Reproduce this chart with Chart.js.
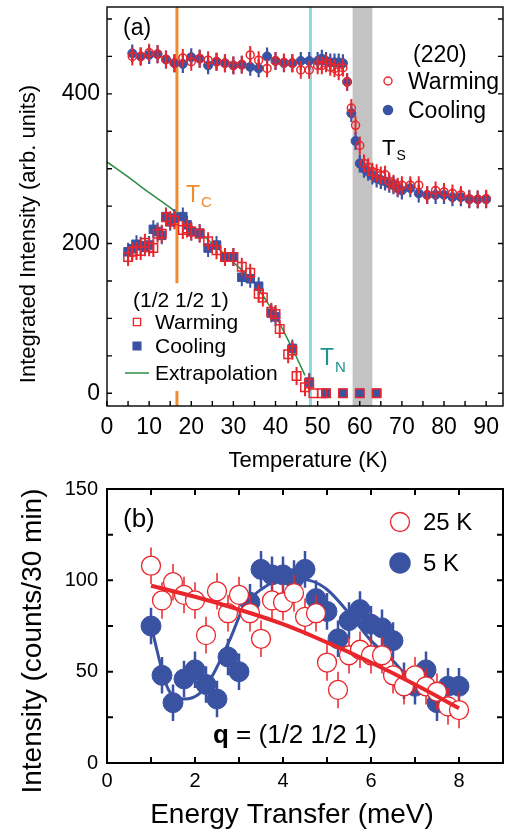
<!DOCTYPE html>
<html>
<head>
<meta charset="utf-8">
<script src="https://cdn.jsdelivr.net/npm/chart.js@4.4.0/dist/chart.umd.min.js"></script>
<style>
  html, body { margin: 0; padding: 0; background: #fff; }
  #wrap { position: relative; width: 510px; height: 832px; }
  canvas { position: absolute; left: 0; }
  #cA { top: 0; }
  #cB { top: 476px; }
</style>
</head>
<body>
<div id="wrap">
  <canvas id="cA" width="510" height="476" style="width:510px;height:476px"></canvas>
  <canvas id="cB" width="510" height="356" style="width:510px;height:356px"></canvas>
</div>
<script>
// ---- panel (a): (220) nuclear peak, warming / cooling
const T_220 = [6,8,10,12,14,16,18,20,22,24,26,28,30,32,34,36,38,40,42,44,46,48,
  50,51,52,53,54,55,56,57,58,59,60,61,62,63,64,65,66,67,68,69,70,
  72,74,76,78,80,82,84,86,88,90];
const I_220_WARM = [450,450,455,453,446,441,448,443,447,445,443,441,438,439,452,445,434,444,442,441,432,432,
  438,438,441,436,434,430,435,416,381,358,331,307,302,296,294,291,292,283,280,276,278,
  278,278,265,271,269,267,265,260,259,260];
const I_220_COOL = [454,450,452,453,446,441,440,449,447,438,443,441,438,439,436,434,450,444,441,441,444,444,
  444,447,444,442,442,442,441,416,374,337,307,300,296,291,287,285,283,280,278,274,271,
  274,267,265,265,265,262,262,259,259,259];
const ERR_220 = 12;

// ---- panel (a): (1/2 1/2 1) magnetic peak
const T_SQ_WARM = [5,6,7,8,9,10,11,12,13,14,15,16,18,19,20,22,24,26,28,30,32,34,36,37,39,40,41,43,44,45,47,48,49,51,52,56,60,64];
const I_SQ_WARM = [182,189,190,190,201,195,194,213,213,235,231,231,218,220,216,213,203,191,182,182,169,161,133,128,109,106,86,52,57,23,8,13,0,0,0,0,0,0];
const T_SQ_COOL = [5,6,7,8,9,10,11,12,13,14,15,16,18,19,20,22,24,26,28,30,32,34,36,39,40,44,48,52,56,60,64];
const I_SQ_COOL = [189,193,199,197,195,198,219,216,211,236,229,234,236,225,216,214,194,198,182,182,155,153,143,107,102,60,15,0,0,0,0];
const ERR_SQ = 12;

const T_EXTRAP = [0,5,10,15,20,25,30,35,38,40,42,44,45.5,47];
const I_EXTRAP = [309,289,268,248,224,200,175,147,122,104,82,60,42,24];

const TC = 16.6, TN = 48.3, TS_BAND = [58.3, 63.0];
const TC_GAP = [3, 147];

const X_TICKS_A = [0,10,20,30,40,50,60,70,80,90];
const Y_TICKS_A = [0,200,400];

// ---- panel (b): energy scans at q = (1/2 1/2 1)
const E_SCAN = [1,1.25,1.5,1.75,2,2.25,2.5,2.75,3,3.25,3.5,3.75,4,4.25,4.5,4.75,5,5.25,5.5,5.75,6,6.25,6.5,6.75,7,7.25,7.5,7.75,8];
const I_25K = [108,89,99,92,89,70,94,82,92,82,68,89,88,93,80,82,55,40,59,62,59,59,48,42,48,42,39,31,29];
const I_5K  = [75,48,33,46,51,43,35,58,50,88,106,103,103,101,106,90,83,68,78,84,76,74,67,45,42,51,33,42,42];
const ERR_SCAN = 10;

const FIT_25K_E = [1,2,3,4,5,6,7,8];
const FIT_25K_I = [97,91,84,76,66,55,43,30];
const FIT_5K_E = [1.0,1.4,1.75,2.1,2.4,2.8,3.1,3.5,4.1,4.6,5.0,5.5,6.0,6.5,7.0];
const FIT_5K_I = [75,40,35,38,48,68,85,95,101,100,95,82,67,56,42];

const X_TICKS_B = [0,2,4,6,8];
const Y_TICKS_B = [0,50,100,150];

// colours
const RED = '#e8262b';
const BLUE = '#3a52a2';
const GREEN = '#2f8c45';
const ORANGE = '#f08a2e';
const CYAN = '#93d5e6';
const TEAL = '#1d9490';
const FONT = "'Liberation Sans', Arial, sans-serif";

Chart.defaults.font.family = FONT;
Chart.defaults.color = '#000';

const pts = (xs, ys) => xs.map((x, i) => ({ x, y: ys[i] }));
const range = (a, b, s) => { const r = []; for (let v = a; v <= b + 1e-9; v += s) r.push(v); return r; };

// error bars, drawn under each dataset's markers
const errorBars = {
  id: 'errorBars',
  beforeDatasetDraw(chart, args) {
    const ds = chart.data.datasets[args.index];
    if (!ds.errBar) return;
    const { ctx } = chart;
    const sy = chart.scales.y;
    ctx.save();
    ctx.strokeStyle = ds.errBar.color;
    ctx.lineWidth = ds.errBar.width;
    ctx.beginPath();
    args.meta.data.forEach((pt, i) => {
      const v = ds.data[i].y;
      if (v === 0) return;
      ctx.moveTo(pt.x, sy.getPixelForValue(v - ds.errBar.size));
      ctx.lineTo(pt.x, sy.getPixelForValue(v + ds.errBar.size));
    });
    ctx.stroke();
    ctx.restore();
  }
};

// box + inward tick marks
const frame = {
  id: 'frame',
  afterDatasetsDraw(chart, args, o) {
    const { ctx, chartArea: a } = chart;
    const sx = chart.scales.x, sy = chart.scales.y;
    ctx.save();
    ctx.strokeStyle = '#000';
    ctx.lineWidth = o.lineWidth;
    ctx.beginPath();
    o.xTicks.forEach(v => {
      const p = sx.getPixelForValue(v);
      ctx.moveTo(p, a.bottom); ctx.lineTo(p, a.bottom - o.len);
      if (o.top) { ctx.moveTo(p, a.top); ctx.lineTo(p, a.top + o.len); }
    });
    o.yTicks.forEach(v => {
      const p = sy.getPixelForValue(v);
      ctx.moveTo(a.left, p); ctx.lineTo(a.left + o.len, p);
      ctx.moveTo(a.right, p); ctx.lineTo(a.right - o.len, p);
    });
    ctx.stroke();
    ctx.strokeRect(a.left, a.top, a.right - a.left, a.bottom - a.top);
    ctx.restore();
  }
};

// Tc / TN lines and the Ts band
const transitions = {
  id: 'transitions',
  beforeDatasetsDraw(chart) {
    const { ctx, chartArea: a, scales: { x, y } } = chart;
    ctx.save();
    const b0 = x.getPixelForValue(TS_BAND[0]), b1 = x.getPixelForValue(TS_BAND[1]);
    ctx.fillStyle = '#c3c3c3';
    ctx.fillRect(b0, a.top, b1 - b0, a.bottom - a.top);
    ctx.lineWidth = 3;
    const vline = (px, y0, y1, c) => {
      ctx.strokeStyle = c;
      ctx.beginPath(); ctx.moveTo(px, y0); ctx.lineTo(px, y1); ctx.stroke();
    };
    const pn = x.getPixelForValue(TN);
    vline(pn, a.top, a.bottom, CYAN);
    const pc = x.getPixelForValue(TC);
    vline(pc, a.top, y.getPixelForValue(TC_GAP[1]), ORANGE);
    vline(pc, y.getPixelForValue(TC_GAP[0]), a.bottom, ORANGE);
    ctx.restore();
  }
};

// free text, legends, axis titles
const notes = {
  id: 'notes',
  afterDraw(chart, args, o) {
    const { ctx } = chart;
    ctx.save();
    ctx.textBaseline = 'alphabetic';
    (o.keys || []).forEach(k => {
      ctx.lineWidth = k.lw || 1.5;
      ctx.strokeStyle = k.color;
      ctx.beginPath();
      if (k.shape === 'circle') ctx.arc(k.x, k.y, k.r, 0, Math.PI * 2);
      else if (k.shape === 'square') ctx.rect(k.x - k.r, k.y - k.r, 2 * k.r, 2 * k.r);
      else { ctx.moveTo(k.x, k.y); ctx.lineTo(k.x2, k.y); }
      if (k.fill) { ctx.fillStyle = k.fill; ctx.fill(); }
      ctx.stroke();
    });
    (o.texts || []).forEach(t => {
      ctx.save();
      ctx.fillStyle = t.color || '#000';
      ctx.translate(t.x, t.y);
      if (t.rot) ctx.rotate(t.rot);
      ctx.textAlign = t.align || 'left';
      let cx = 0;
      if (t.bold) {
        ctx.font = `bold ${t.size}px ${FONT}`;
        ctx.fillText(t.bold, 0, 0);
        cx = ctx.measureText(t.bold).width;
      }
      ctx.font = `${t.size}px ${FONT}`;
      ctx.fillText(t.t, cx, 0);
      if (t.sub) {
        const w = ctx.measureText(t.t).width;
        ctx.font = `${t.subSize}px ${FONT}`;
        ctx.fillText(t.sub, cx + w + 1, t.subDy);
      }
      ctx.restore();
    });
    ctx.restore();
  }
};

// fixed axis box, no extra room reserved for end labels
function axis(min, max, ticks, size, pad, key, boxSize) {
  return {
    type: 'linear', min, max,
    grid: { display: false, drawTicks: false },
    border: { display: false },
    ticks: { font: { size }, color: '#000', padding: pad, autoSkip: false, maxRotation: 0 },
    afterBuildTicks: s => { s.ticks = ticks.map(v => ({ value: v })); },
    afterFit: s => {
      s[key] = boxSize;
      s.paddingTop = s.paddingBottom = s.paddingLeft = s.paddingRight = 0;
    }
  };
}

// ---------------- panel (a)
new Chart(document.getElementById('cA'), {
  type: 'scatter',
  data: {
    datasets: [
      { label: '(1/2 1/2 1) Warming', data: pts(T_SQ_WARM, I_SQ_WARM), pointStyle: 'rect', pointRadius: 6,
        borderColor: RED, backgroundColor: 'rgba(255,255,255,0)', borderWidth: 1.5,
        errBar: { size: ERR_SQ, color: RED, width: 2 } },
      { label: '(1/2 1/2 1) Cooling', data: pts(T_SQ_COOL, I_SQ_COOL), pointStyle: 'rect', pointRadius: 6,
        borderColor: BLUE, backgroundColor: BLUE, borderWidth: 1,
        errBar: { size: ERR_SQ, color: BLUE, width: 2 } },
      { label: '(220) Warming', data: pts(T_220, I_220_WARM), pointStyle: 'circle', pointRadius: 4,
        borderColor: RED, backgroundColor: 'rgba(255,255,255,0)', borderWidth: 1.5,
        errBar: { size: ERR_220, color: RED, width: 2 } },
      { label: '(220) Cooling', data: pts(T_220, I_220_COOL), pointStyle: 'circle', pointRadius: 4.5,
        borderColor: BLUE, backgroundColor: BLUE, borderWidth: 1,
        errBar: { size: ERR_220, color: BLUE, width: 2.2 } },
      { label: 'Extrapolation', data: pts(T_EXTRAP, I_EXTRAP), showLine: true, pointRadius: 0,
        borderColor: GREEN, borderWidth: 1.5, cubicInterpolationMode: 'monotone' }
    ]
  },
  options: {
    responsive: false, animation: false, events: [],
    layout: { padding: { top: 7, right: 7, left: 0, bottom: 0 }, autoPadding: false },
    plugins: {
      legend: { display: false }, tooltip: { enabled: false },
      frame: { lineWidth: 1.4, len: 5, top: false, xTicks: range(0, 90, 5), yTicks: range(0, 500, 50) },
      notes: {
        keys: [
          { shape: 'circle', x: 388, y: 81, r: 4, color: RED, fill: '#fff', lw: 1.4 },
          { shape: 'circle', x: 388, y: 110, r: 4.5, color: BLUE, fill: BLUE },
          { shape: 'square', x: 137, y: 322, r: 3.6, color: RED, fill: '#fff', lw: 1.4 },
          { shape: 'square', x: 137, y: 346, r: 3.8, color: BLUE, fill: BLUE },
          { shape: 'line', x: 125, x2: 149, y: 373, color: GREEN, lw: 1.5 }
        ],
        texts: [
          { t: '(a)', x: 123, y: 35, size: 23 },
          { t: '(220)', x: 413, y: 62, size: 23 },
          { t: 'Warming', x: 408, y: 89, size: 23 },
          { t: 'Cooling', x: 408, y: 118, size: 23 },
          { t: 'T', x: 382, y: 155, size: 22, sub: 'S', subSize: 14, subDy: 5 },
          { t: 'T', x: 186, y: 202, size: 23, color: ORANGE, sub: 'C', subSize: 15, subDy: 5 },
          { t: 'T', x: 320, y: 365, size: 23, color: TEAL, sub: 'N', subSize: 15, subDy: 7 },
          { t: '(1/2 1/2 1)', x: 133, y: 307, size: 21 },
          { t: 'Warming', x: 155, y: 329, size: 21 },
          { t: 'Cooling', x: 155, y: 353, size: 21 },
          { t: 'Extrapolation', x: 155, y: 380, size: 21 },
          { t: 'Integrated Intensity (arb. units)', x: 35, y: 234, size: 22, rot: -Math.PI / 2, align: 'center' },
          { t: 'Temperature (K)', x: 308, y: 467, size: 22, align: 'center' }
        ]
      }
    },
    scales: {
      x: axis(0, 94, X_TICKS_A, 23, 8, 'height', 70),
      y: axis(-17, 516, Y_TICKS_A, 23, 7, 'width', 107)
    }
  },
  plugins: [transitions, errorBars, frame, notes]
});

// ---------------- panel (b)
new Chart(document.getElementById('cB'), {
  type: 'scatter',
  data: {
    datasets: [
      { label: '25 K fit', data: pts(FIT_25K_E, FIT_25K_I), showLine: true, pointRadius: 0,
        borderColor: RED, borderWidth: 4, tension: 0.4 },
      { label: '25 K', data: pts(E_SCAN, I_25K), pointStyle: 'circle', pointRadius: 9.5,
        borderColor: RED, backgroundColor: '#fff', borderWidth: 1.3,
        errBar: { size: ERR_SCAN, color: RED, width: 1.5 } },
      { label: '5 K', data: pts(E_SCAN, I_5K), pointStyle: 'circle', pointRadius: 10,
        borderColor: BLUE, backgroundColor: BLUE, borderWidth: 1,
        errBar: { size: ERR_SCAN, color: BLUE, width: 2.5 } },
      { label: '5 K fit', data: pts(FIT_5K_E, FIT_5K_I), showLine: true, pointRadius: 0,
        borderColor: BLUE, borderWidth: 3, cubicInterpolationMode: 'monotone' }
    ]
  },
  options: {
    responsive: false, animation: false, events: [],
    layout: { padding: { top: 13, right: 7, left: 0, bottom: 0 }, autoPadding: false },
    plugins: {
      legend: { display: false }, tooltip: { enabled: false },
      frame: { lineWidth: 2, len: 6, top: true, xTicks: range(0, 9, 1), yTicks: range(0, 150, 25) },
      notes: {
        keys: [
          { shape: 'circle', x: 400, y: 46, r: 9.5, color: RED, fill: '#fff', lw: 1.3 },
          { shape: 'circle', x: 400, y: 87, r: 10, color: BLUE, fill: BLUE }
        ],
        texts: [
          { t: '(b)', x: 123, y: 51, size: 26 },
          { t: '25 K', x: 423, y: 54, size: 24 },
          { t: '5 K', x: 423, y: 95, size: 24 },
          { bold: 'q', t: ' = (1/2 1/2 1)', x: 213, y: 267, size: 26 },
          { t: 'Intensity (counts/30 min)', x: 41, y: 165, size: 28, rot: -Math.PI / 2, align: 'center' },
          { t: 'Energy Transfer (meV)', x: 292, y: 347, size: 28, align: 'center' }
        ]
      }
    },
    scales: {
      x: axis(0, 9, X_TICKS_B, 20, 6, 'height', 69),
      y: axis(0, 150, Y_TICKS_B, 20, 9, 'width', 107)
    }
  },
  plugins: [errorBars, frame, notes]
});
</script>
</body>
</html>
